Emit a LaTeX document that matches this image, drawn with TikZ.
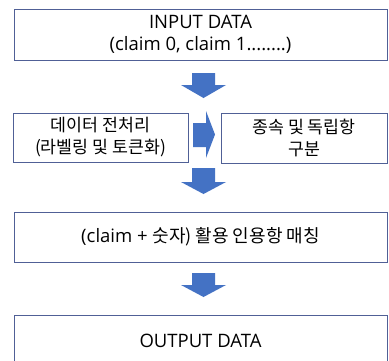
\documentclass[tikz,border=0pt]{standalone}
\usepackage{fontspec}
\setmainfont{Open Sans}
\newfontfamily\kr{Noto Sans CJK KR}
\newcommand{\krs}{\kr\fontsize{18}{21}\selectfont}
\newcommand{\krt}{\kr\fontsize{17.3}{20.5}\selectfont}
\definecolor{boxline}{RGB}{80,96,150}
\definecolor{arrowblue}{RGB}{68,114,196}
\begin{document}
\begin{tikzpicture}[x=1pt,y=-1pt,
  box/.style={draw=boxline, line width=0.9pt, fill=white, inner sep=0pt, align=center,
    font=\fontsize{18.5}{22}\selectfont, text=black},
  blockarrow/.style={fill=arrowblue, draw=none}]
\useasboundingbox (0,0) rectangle (389,360);
\clip (0,0) rectangle (389,360);
\fill[white] (0,0) rectangle (389,360);
% boxes
\node[box, minimum width=373pt, minimum height=51pt] (in) at (200.5,34.5)
  {INPUT DATA\\(claim 0, claim 1........)};
\node[box, minimum width=175pt, minimum height=49pt] (pre) at (100.5,137.5)
  {\krt 데이터 전처리\\\krt (라벨링 및 토큰화)};
\node[box, minimum width=166pt, minimum height=50pt] (sep) at (304,138)
  {\krt 종속 및 독립항\\\krt 구분};
\node[box, minimum width=373pt, minimum height=50pt] (match) at (200.5,237)
  {(claim + {\krs 숫자) 활용 인용항 매칭}};
\node[box, minimum width=373pt, minimum height=51pt] (out) at (200.5,340.5)
  {OUTPUT DATA};
% block arrows
\fill[blockarrow] (192,73) -- (215,73) -- (215,85) -- (226,85) -- (203.5,98) -- (181,85) -- (192,85) -- cycle;
\fill[blockarrow] (193,123) -- (206,123) -- (206,111) -- (215,134.5) -- (206,158) -- (206,147) -- (193,147) -- cycle;
\fill[blockarrow] (192,168) -- (215,168) -- (215,182) -- (226,182) -- (203.5,194) -- (181,182) -- (192,182) -- cycle;
\fill[blockarrow] (192,273) -- (215,273) -- (215,285) -- (226,285) -- (203.5,297) -- (181,285) -- (192,285) -- cycle;
\end{tikzpicture}
\end{document}
